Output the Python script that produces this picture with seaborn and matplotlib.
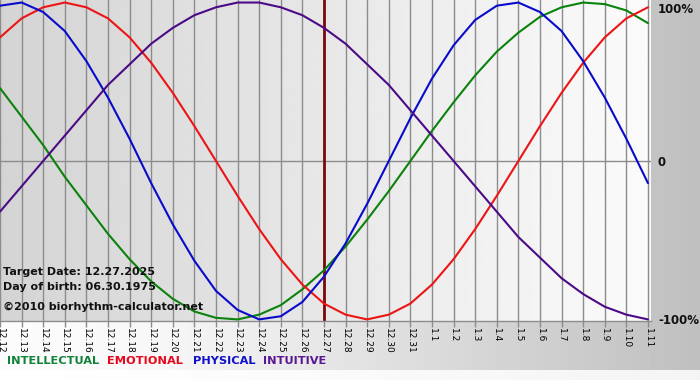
import numpy as np
import pandas as pd
import matplotlib
matplotlib.use("Agg")
import matplotlib.pyplot as plt
import seaborn as sns

# ---------------- data ----------------
days = ["12.12", "12.13", "12.14", "12.15", "12.16", "12.17", "12.18", "12.19",
        "12.20", "12.21", "12.22", "12.23", "12.24", "12.25", "12.26", "12.27",
        "12.28", "12.29", "12.30", "12.31", "1.1", "1.2", "1.3", "1.4", "1.5",
        "1.6", "1.7", "1.8", "1.9", "1.10", "1.11"]

intellectual = [0.46, 0.28, 0.10, -0.10, -0.28, -0.46, -0.62, -0.76, -0.87, -0.95,
                -0.99, -1.00, -0.97, -0.91, -0.81, -0.69, -0.54, -0.37, -0.19, 0.00,
                0.19, 0.37, 0.54, 0.69, 0.81, 0.91, 0.97, 1.00, 0.99, 0.95, 0.87]
emotional = [0.78, 0.90, 0.97, 1.00, 0.97, 0.90, 0.78, 0.62, 0.43, 0.22,
             0.00, -0.22, -0.43, -0.62, -0.78, -0.90, -0.97, -1.00, -0.97, -0.90,
             -0.78, -0.62, -0.43, -0.22, 0.00, 0.22, 0.43, 0.62, 0.78, 0.90, 0.97]
physical = [0.98, 1.00, 0.94, 0.82, 0.63, 0.40, 0.14, -0.14, -0.40, -0.63,
            -0.82, -0.94, -1.00, -0.98, -0.89, -0.73, -0.52, -0.27, 0.00, 0.27,
            0.52, 0.73, 0.89, 0.98, 1.00, 0.94, 0.82, 0.63, 0.40, 0.14, -0.14]
intuitive = [-0.32, -0.16, 0.00, 0.16, 0.32, 0.48, 0.61, 0.74, 0.84, 0.92,
             0.97, 1.00, 1.00, 0.97, 0.92, 0.84, 0.74, 0.61, 0.48, 0.32,
             0.16, 0.00, -0.16, -0.32, -0.48, -0.61, -0.74, -0.84, -0.92, -0.97, -1.00]

series_names = ["INTELLECTUAL", "EMOTIONAL", "PHYSICAL", "INTUITIVE"]
target_day = "12.27"
y_ticks = [1, 0, -1]
y_labels = ["100%", "0", "-100%"]
info_lines = ["Target Date: 12.27.2025", "Day of birth: 06.30.1975",
              "\u00a92010 biorhythm-calculator.net"]

# ---------------- style ----------------
colors = {"INTELLECTUAL": "#0b820b", "EMOTIONAL": "#ec1414",
          "PHYSICAL": "#0a0acc", "INTUITIVE": "#4b0a86"}
text_colors = {"INTELLECTUAL": "#12823a", "EMOTIONAL": "#e8081e",
               "PHYSICAL": "#1010cc", "INTUITIVE": "#5a1890"}

sns.set_theme(style="white")
plt.rcParams['font.family'] = ['DejaVu Sans']

df = pd.DataFrame({
    "day": list(range(len(days))) * 4,
    "value": intellectual + emotional + physical + intuitive,
    "series": sum([[n] * len(days) for n in series_names], []),
})

W, H = 700, 380
fig = plt.figure(figsize=(W / 100, H / 100), dpi=100)

# figure background gradient
bg = fig.add_axes([0, 0, 1, 1], zorder=-10)
xs = np.arange(W)
g = np.interp(xs, [0, 160, 690], [252, 247, 192])
img = np.tile(g, (H, 1))
img[370:, :] = np.interp(xs, [0, 700], [255, 244])
bg.imshow(img, cmap="gray", vmin=0, vmax=255, aspect="auto",
          extent=[0, 1, 0, 1], interpolation="bilinear")
bg.set_axis_off()

# plot axes
ax = fig.add_axes([0, 1 - 321 / H, 651 / W, 321 / H])
ax.set_facecolor("none")
grad = np.tile(np.linspace(212, 251, 256), (2, 1))
ax.imshow(grad, cmap="gray", vmin=0, vmax=255, aspect="auto",
          extent=[0, 1, 0, 1], transform=ax.transAxes, zorder=0,
          interpolation="bilinear")

ax.set_xlim(0, 30.14)
ax.set_ylim(-1.01, 1.016)

for i in range(len(days)):
    ax.axvline(i, color="#8c8c8c", lw=1, zorder=1)
ax.axhline(0, color="#8c8c8c", lw=1, zorder=1)
ax.axvline(days.index(target_day), color="#7a0a0a", lw=2, zorder=2)

sns.lineplot(data=df, x="day", y="value", hue="series", palette=colors,
             hue_order=series_names, estimator=None, sort=False,
             linewidth=1.5, legend=False, ax=ax, zorder=3)

ax.set_xlabel("")
ax.set_ylabel("")
ax.set_xticks(range(len(days)))
ax.set_xticklabels(days, rotation=-90, fontsize=6.5, va="top", ha="center")
ax.tick_params(axis="x", direction="out", length=4, width=1, color="#8c8c8c",
               pad=1, bottom=True, labelcolor="black")
ax.yaxis.tick_right()
ax.set_yticks(y_ticks)
ax.set_yticklabels(y_labels, fontsize=8.5, fontweight="bold")
ax.tick_params(axis="y", length=0, pad=5, labelcolor="#111111")
ax.get_yticklabels()[0].set_va("top")
for s in ["top", "left", "right"]:
    ax.spines[s].set_visible(False)
ax.spines["bottom"].set_color("#8c8c8c")
ax.spines["bottom"].set_linewidth(1)
ax.grid(False)

# info text
for txt, yp in zip(info_lines, [272, 287, 307]):
    fig.text(3 / W, 1 - yp / H, txt, fontsize=8, fontweight="bold",
             color="#111111", va="center", ha="left")

# legend text
for name, xp in zip(series_names, [7, 107, 193, 263]):
    fig.text(xp / W, 1 - 361 / H, name, fontsize=8.2, fontweight="bold",
             color=text_colors[name], va="center", ha="left")

fig.savefig("out.png", dpi=100)
